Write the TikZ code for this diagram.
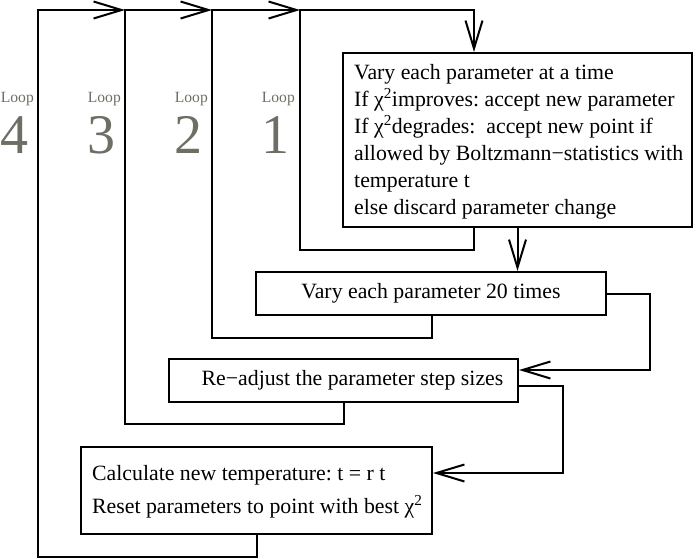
\documentclass[tikz,border=0pt]{standalone}
\usepackage{fontspec}
\setmainfont{Liberation Serif}
\usetikzlibrary{arrows.meta}
\definecolor{loopgray}{RGB}{110,110,100}
\begin{document}
\frenchspacing
\begin{tikzpicture}[x=1pt,y=-1pt,
  line/.style={line width=2pt},
  arr/.style={line width=2pt,-{Straight Barb[length=28pt,width=17pt]}},
  box/.style={draw,line width=2pt,inner sep=0pt},
  boxtext/.style={inner sep=0pt,align=left,anchor=west},
  looplbl/.style={text=loopgray,font=\fontsize{15.6}{18}\selectfont,inner sep=0pt,anchor=base east},
  loopnum/.style={text=loopgray,font=\fontsize{56}{60}\selectfont,inner sep=0pt,anchor=base west}]
\useasboundingbox (0,0) rectangle (696,558);
% boxes
\node[box,minimum width=349pt,minimum height=174pt] (box1) at (517.5,140) {};
\node[boxtext,font=\fontsize{21.8}{27}\selectfont] (t1) at ([xshift=12pt,yshift=-1.5pt]box1.west)
  {Vary each parameter at a time\\
   If χ\textsuperscript{2}improves: accept new parameter\\
   If χ\textsuperscript{2}degrades:\ \ accept new point if\\
   allowed by Boltzmann−statistics with\\
   temperature t\\
   else discard parameter change};
\node[box,minimum width=350pt,minimum height=43pt,font=\fontsize{21.8}{27}\selectfont] (box2) at (431,293.5)
  {Vary each parameter 20 times};
\node[box,minimum width=349pt,minimum height=43pt,font=\fontsize{21.8}{27}\selectfont] (box3) at (343.5,380.5)
  {\hspace*{18pt}Re−adjust the parameter step sizes};
\node[box,minimum width=351pt,minimum height=87pt] (box4) at (256.5,490.5) {};
\node[boxtext,font=\fontsize{21.8}{33}\selectfont] (t4) at ([xshift=12pt,yshift=-1pt]box4.west)
  {Calculate new temperature: t = r t\\
   Reset parameters to point with best χ\textsuperscript{2}};
% junction coordinates on the top line
\coordinate (c1) at (300,10);
\coordinate (c2) at (212,10);
\coordinate (c3) at (125,10);
\coordinate (c4) at (38,10);
% main flow
\draw[arr] (box1.south) -- (box1.south |- box2.north);
\draw[arr] (box2.east) -- ++(43,0) |- ([yshift=10.5pt]box3.east);
\draw[arr] ([yshift=-5.5pt]box3.east) -- ++(44,0) |- ([yshift=17.5pt]box4.east);
% loops
\draw[arr] ([xshift=-43.5pt]box1.south) -- ++(0,22) -| (c1) -| ([xshift=-43.5pt]box1.north);
\draw[arr] ([xshift=1pt]box2.south) -- ++(0,22) -| (c2) -- (c1);
\draw[arr] (box3.south) -- ++(0,21) -| (c3) -- (c2);
\draw[arr] (box4.south) -- ++(0,22) -| (c4) -- (c3);
% loop labels
\node[looplbl] (L4) at (34,102) {Loop};
\node[looplbl] (L3) at (121,102) {Loop};
\node[looplbl] (L2) at (208,102) {Loop};
\node[looplbl] (L1) at (295,102) {Loop};
\node[loopnum] (n4) at (L4.west |- 0,153) {4};
\node[loopnum] (n3) at (L3.west |- 0,153) {3};
\node[loopnum] (n2) at (L2.west |- 0,153) {2};
\node[loopnum] (n1) at (L1.west |- 0,153) {1};
\end{tikzpicture}
\end{document}
